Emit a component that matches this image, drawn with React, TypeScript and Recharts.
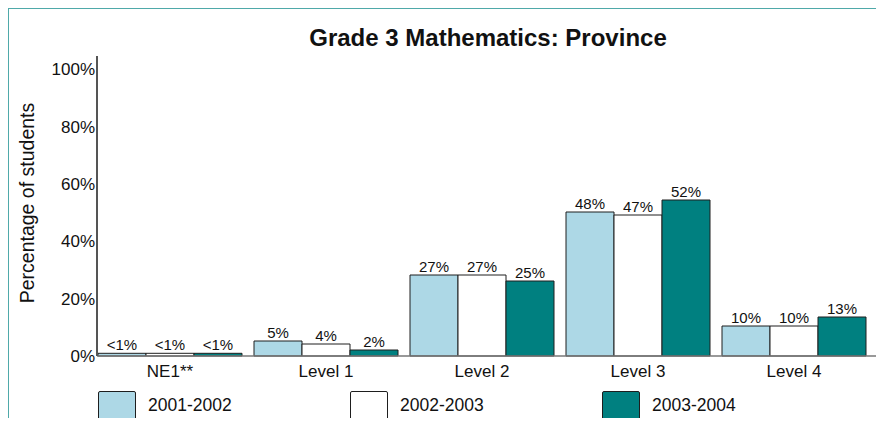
import React from 'react';
import { BarChart, Bar, XAxis, YAxis, LabelList } from 'recharts';

const categories = ['NE1**', 'Level 1', 'Level 2', 'Level 3', 'Level 4'];
const years0102 = [0.9, 5, 27, 48, 10];
const years0203 = [0.9, 4, 27, 47, 10];
const years0304 = [0.9, 2, 25, 52, 13];
const yTicks = [0, 20, 40, 60, 80, 100];

const series = [
  { key: 'y0102', name: '2001-2002', fill: '#add8e6' },
  { key: 'y0203', name: '2002-2003', fill: '#ffffff' },
  { key: 'y0304', name: '2003-2004', fill: '#008080' }
];

const chartData = categories.map((category, i) => ({
  category,
  y0102: years0102[i],
  y0203: years0203[i],
  y0304: years0304[i]
}));

const FONT = '"Liberation Sans", Arial, sans-serif';

function formatPct(v: number): string {
  return v < 1 ? '<1%' : `${v}%`;
}

const YTitle = () => (
  <text
    transform="translate(26,195) rotate(-90)"
    textAnchor="middle"
    fontSize={19.5}
    fill="#111"
    fontFamily={FONT}
  >
    Percentage of students
  </text>
);

export default function App() {
  return (
    <div style={{ position: 'relative', width: 876, height: 410, fontFamily: FONT }}>
      <div
        style={{
          position: 'absolute',
          left: -1,
          top: -1,
          width: 873,
          height: 419,
          boxSizing: 'border-box',
          borderTop: '2px solid #4fa9a9',
          borderLeft: '2px solid #4fa9a9',
          borderRight: '2px solid #4fa9a9'
        }}
      />
      <div
        style={{
          position: 'absolute',
          left: 89,
          top: 18,
          width: 782,
          textAlign: 'center',
          fontSize: 24,
          lineHeight: '24px',
          fontWeight: 'bold',
          color: '#111'
        }}
      >
        Grade 3 Mathematics: Province
      </div>
      <div style={{ position: 'absolute', left: 0, top: 0 }}>
        <BarChart
          width={876}
          height={380}
          data={chartData}
          margin={{ top: 48, right: 5, bottom: 0, left: 0 }}
          barCategoryGap={6}
          barGap={0}
        >
          <XAxis
            dataKey="category"
            interval={0}
            padding={{ left: -5, right: 7 }}
            tickLine={false}
            tickSize={6}
            tickMargin={3}
            height={32}
            axisLine={{ stroke: '#777', strokeWidth: 1.5 }}
            tick={{ fill: '#111', fontSize: 17, fontFamily: FONT }}
          />
          <YAxis
            yAxisId="ticks"
            width={89}
            domain={[0, 104.6]}
            allowDataOverflow
            ticks={yTicks}
            tickFormatter={(v: number) => `${v}%`}
            tickLine={false}
            tickSize={0}
            tickMargin={2}
            axisLine={{ stroke: '#555', strokeWidth: 2 }}
            tick={{ fill: '#111', fontSize: 17, fontFamily: FONT }}
            label={<YTitle />}
          />
          <YAxis yAxisId="bars" hide width={0} domain={[0, 100]} />
          {series.map(s => (
            <Bar
              key={s.key}
              dataKey={s.key}
              name={s.name}
              yAxisId="bars"
              fill={s.fill}
              stroke="#1e1e1e"
              strokeWidth={1}
              isAnimationActive={false}
            >
              <LabelList
                dataKey={s.key}
                position="top"
                offset={3}
                formatter={(v: any) => formatPct(Number(v))}
                style={{ fill: '#111', fontSize: 15, fontFamily: FONT }}
              />
            </Bar>
          ))}
        </BarChart>
      </div>
      {series.map((s, i) => (
        <div
          key={s.key}
          style={{
            position: 'absolute',
            left: 90 + i * 252,
            top: 383,
            height: 29,
            display: 'flex',
            alignItems: 'center',
            gap: 12
          }}
        >
          <div
            style={{
              width: 38,
              height: 29,
              boxSizing: 'border-box',
              background: s.fill,
              border: '1.5px solid #1e1e1e',
              borderRadius: 2
            }}
          />
          <span style={{ fontSize: 17.5, color: '#111' }}>{s.name}</span>
        </div>
      ))}
    </div>
  );
}
